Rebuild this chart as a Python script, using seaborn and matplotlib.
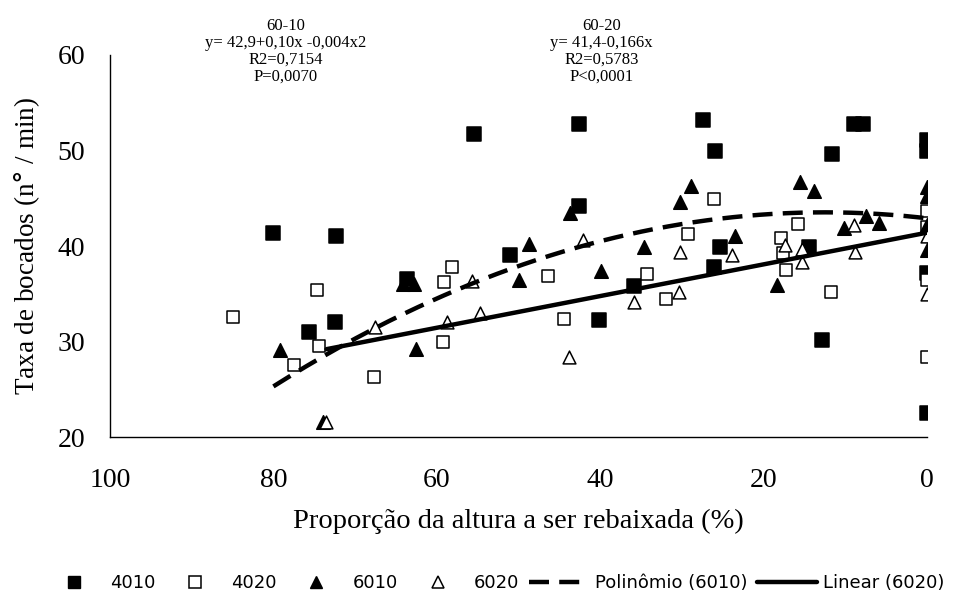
import numpy as np
import pandas as pd
import matplotlib
matplotlib.use("Agg")
import matplotlib.pyplot as plt
from matplotlib.lines import Line2D
import seaborn as sns

# ---------------- data ----------------
x_4010 = [80.1, 72.3, 75.7, 72.5, 63.7, 55.5, 51.0, 42.6, 42.6, 40.2, 35.9, 27.4,
          26.0, 26.1, 25.3, 14.5, 12.9, 11.7, 9.0, 7.8, 0, 0, 0, 0]
y_4010 = [41.4, 41.1, 31.0, 32.0, 36.5, 51.7, 39.1, 52.8, 44.2, 32.3, 35.8, 53.2,
          49.9, 37.8, 39.9, 39.9, 30.2, 49.6, 52.8, 52.8, 51.1, 49.9, 37.2, 22.5]

x_4020 = [85.0, 74.7, 77.5, 74.4, 67.7, 59.1, 58.2, 59.2, 46.4, 44.4, 34.3, 32.0,
          29.3, 26.1, 17.9, 17.6, 17.3, 15.8, 11.8, 0, 0, 0, 0]
y_4020 = [32.6, 35.4, 27.5, 29.5, 26.3, 36.2, 37.8, 30.0, 36.9, 32.4, 37.1, 34.4,
          41.3, 44.9, 40.8, 39.3, 37.5, 42.3, 35.2, 43.7, 42.0, 36.4, 28.4]

x_6010 = [79.2, 73.9, 64.1, 62.8, 62.5, 50.0, 48.7, 43.7, 39.9, 34.7, 30.2, 28.9,
          23.5, 18.4, 15.5, 13.9, 10.2, 7.5, 5.9, 0, 0, 0, 0]
y_6010 = [29.1, 21.6, 36.0, 36.0, 29.2, 36.4, 40.2, 43.5, 37.4, 39.9, 44.6, 46.3,
          41.0, 35.9, 46.7, 45.8, 41.9, 43.1, 42.4, 46.2, 45.2, 42.2, 39.6]

x_6020 = [73.6, 67.6, 58.7, 55.7, 54.7, 43.8, 42.1, 35.9, 30.4, 30.2, 23.9, 17.4,
          15.3, 15.3, 8.9, 8.8, 0, 0]
y_6020 = [21.6, 31.5, 32.0, 36.3, 33.0, 28.4, 40.6, 34.1, 35.2, 39.4, 39.1, 40.1,
          39.7, 38.3, 42.2, 39.4, 41.0, 35.0]

# printed regression equations (coefficients, lowest power first)
poly_6010_coef = [42.9, 0.10, -0.004]
poly_6010_span = [80, 0]
lin_6020_coef = [41.4, -0.166]
lin_6020_span = [73.5, 0]

x_ticks = [100, 80, 60, 40, 20, 0]
y_ticks = [20, 30, 40, 50, 60]

note_6010 = "60-10\ny= 42,9+0,10x -0,004x2\nR2=0,7154\nP=0,0070"
note_6020 = "60-20\ny= 41,4-0,166x\nR2=0,5783\nP<0,0001"

# ---------------- figure ----------------
sns.set_theme(style="white")
plt.rcParams["font.family"] = ["Liberation Serif", "DejaVu Serif"]

fig = plt.figure(figsize=(9.58, 5.92), dpi=100)
ax = fig.add_axes([0.1148, 0.2618, 0.853, 0.6453])

def curve(coef, span):
    xs = np.linspace(span[0], span[1], 200)
    ys = np.polynomial.polynomial.polyval(xs, coef)
    return pd.DataFrame({"x": xs, "y": ys})

series = [
    ("4010", x_4010, y_4010, "s", "black", 90),
    ("4020", x_4020, y_4020, "s", "white", 80),
    ("6010", x_6010, y_6010, "^", "black", 95),
    ("6020", x_6020, y_6020, "^", "white", 85),
]
for name, xs, ys, mk, fc, sz in series:
    d = pd.DataFrame({"x": xs, "y": ys})
    sns.scatterplot(data=d, x="x", y="y", marker=mk, s=sz, color=fc,
                    edgecolor="black", linewidth=1.1, ax=ax, zorder=3,
                    legend=False)

dash = (0, (4.5, 2.3))
pc = curve(poly_6010_coef, poly_6010_span)
sns.lineplot(data=pc, x="x", y="y", ax=ax, color="black", lw=3.2,
             linestyle=dash, zorder=4, sort=False)
lc = curve(lin_6020_coef, lin_6020_span)
sns.lineplot(data=lc, x="x", y="y", ax=ax, color="black", lw=3.2,
             zorder=4, sort=False)

ax.set_xlim(100, 0)
ax.set_ylim(20, 60)
ax.set_xticks(x_ticks)
ax.set_yticks(y_ticks)
for s in ["top", "right"]:
    ax.spines[s].set_visible(False)
for s in ["left", "bottom"]:
    ax.spines[s].set_color("black")
    ax.spines[s].set_linewidth(1.0)
ax.tick_params(axis="both", direction="out", length=7, width=1.0,
               color="black", labelcolor="black", labelsize=20)
ax.tick_params(axis="x", pad=15)
ax.tick_params(axis="y", pad=11)
ax.set_xlabel("Proporção da altura a ser rebaixada (%)", fontsize=20.5,
              color="black", labelpad=12)
ax.set_ylabel("Taxa de bocados (n$\\degree$ / min)", fontsize=19.5,
              color="black", labelpad=11)

fig.text(0.298, 0.969, note_6010, ha="center", va="top", fontsize=12,
         linespacing=1.05, color="black")
fig.text(0.628, 0.969, note_6020, ha="center", va="top", fontsize=12,
         linespacing=1.05, color="black")

handles = [
    Line2D([], [], marker="s", ls="", mfc="black", mec="black", ms=9),
    Line2D([], [], marker="s", ls="", mfc="white", mec="black", ms=9, mew=1.1),
    Line2D([], [], marker="^", ls="", mfc="black", mec="black", ms=9),
    Line2D([], [], marker="^", ls="", mfc="white", mec="black", ms=9, mew=1.1),
    Line2D([], [], color="black", lw=3.2, ls=dash),
    Line2D([], [], color="black", lw=3.2),
]
labels = ["4010", "4020", "6010", "6020", "Polinômio (6010)", "Linear (6020)"]
leg = fig.legend(handles, labels, loc="center", bbox_to_anchor=(0.516, 0.015),
                 ncol=6, frameon=False, handlelength=3.3,
                 handletextpad=0.35, columnspacing=0.55, borderaxespad=0,
                 prop={"family": ["DejaVu Sans"], "size": 13})
for t in leg.get_texts():
    t.set_color("black")

fig.savefig("out.png", dpi=100)
